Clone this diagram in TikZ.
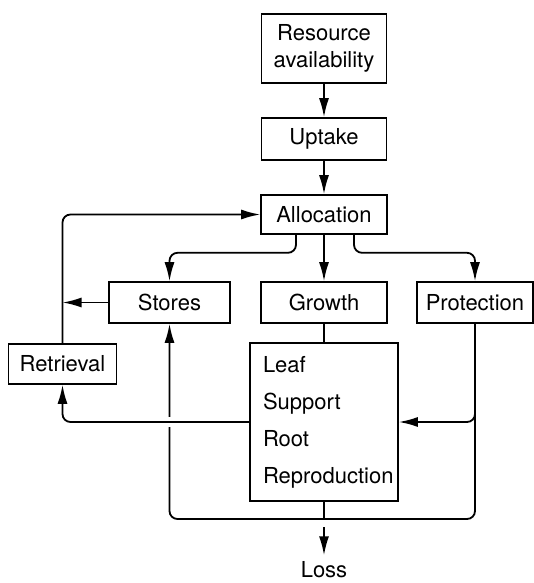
\documentclass[tikz,border=0pt]{standalone}
\usepackage{fontspec}
\setmainfont{TeX Gyre Heros}
\usetikzlibrary{calc,arrows.meta,positioning}

\tikzset{
  box/.style={draw, black, line width=1.6pt, inner sep=2pt, align=center},
  flow/.style={line width=1.8pt, rounded corners=8pt, -{Latex[length=19pt,width=10pt]}},
  link/.style={line width=1.8pt, rounded corners=8pt}
}

\begin{document}
\begin{tikzpicture}[x=1pt, y=-1pt, font=\fontsize{22}{27}\selectfont]
 \useasboundingbox (0,0) rectangle (534,583);

 \node[box, minimum width=125pt, minimum height=69pt] (res) at (324,48.5) {Resource\\availability};
 \node[box, minimum width=125pt, minimum height=42pt] (upt) at (324,139) {Uptake};
 \node[box, minimum width=126pt, minimum height=39pt] (alloc) at (324,214.5) {Allocation};

 \node[box, minimum width=121pt, minimum height=41pt] (stores) at (169.5,302.5) {Stores};
 \node[box, minimum width=126pt, minimum height=41pt] (growth) at (324,302.5) {Growth};
 \node[box, minimum width=116pt, minimum height=41pt] (prot) at (475,302.5) {Protection};
 \node[box, minimum width=108pt, minimum height=40pt] (retr) at (62.5,364) {Retrieval};

 \node[box, minimum width=148pt, minimum height=146pt, text width=122pt, inner sep=13pt,
       align=left, font=\fontsize{22}{37}\selectfont] (parts) at (324,422)
       {Leaf\\Support\\Root\\Reproduction};
 \node (loss) at (324,570) {Loss};

 \coordinate (bot) at (324,519);
 \coordinate (lossin) at (324,527);

 % supply chain
 \draw[flow] (res) -- (upt);
 \draw[flow] (upt) -- (alloc);

 % allocation to the three sinks
 \draw[flow] (alloc) -- (growth);
 \draw[flow] ([xshift=-28pt]alloc.south) -- ++(0,18) -| (stores.north);
 \draw[flow] ([xshift=30pt]alloc.south) -- ++(0,18) -| (prot.north);

 % retrieval loop
 \draw[flow] (retr.north) |- (alloc.west);
 \draw[flow] (stores.west) -- (stores.west -| retr.north);

 \draw[link] (growth.south) -- (parts.north);

 % losses around the bottom
 \draw[flow] (prot.south) |- (bot) -| (stores.south);
 \draw[flow] (prot.south) |- (parts.east);
 \draw[link] (parts.south) -- (bot);
 \draw[flow, shorten >=3pt] (lossin) -- (loss.north);

 \draw[white, line width=10pt] (parts.west) -- (parts.west -| retr.south);
 \draw[flow] (parts.west) -| (retr.south);
\end{tikzpicture}
\end{document}
